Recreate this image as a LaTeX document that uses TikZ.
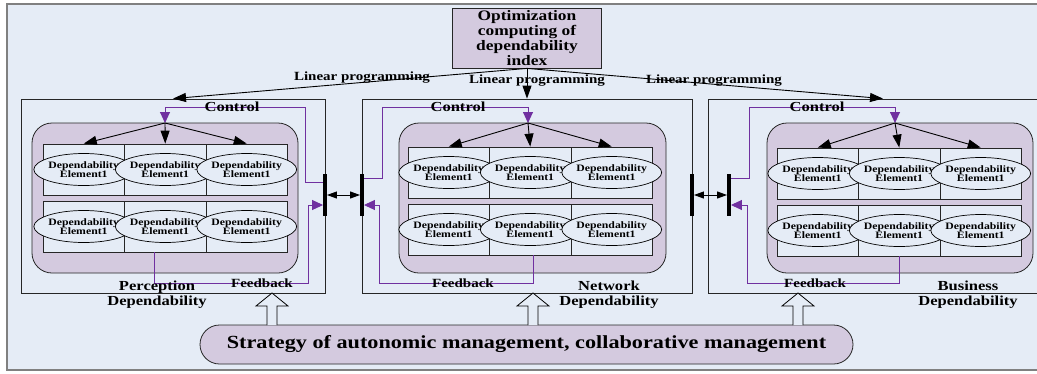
\documentclass[tikz,border=0pt]{standalone}
\usepackage{fontspec}
\setmainfont[FakeStretch=1.2]{Liberation Serif}
\usetikzlibrary{arrows.meta,shapes.geometric}
\definecolor{bgblue}{HTML}{E5ECF6}
\definecolor{lilac}{HTML}{D4CADF}
\definecolor{fbpurple}{HTML}{7030A0}
\tikzset{
  lbl/.style={font=\fontsize{12.5}{14}\selectfont\bfseries, inner sep=0pt},
  outerbox/.style={draw=black!85, line width=0.8pt, minimum height=194pt, inner sep=0pt},
  panel/.style={draw=black!85, fill=lilac, line width=0.8pt, rounded corners=20pt},
  cell/.style={draw=black!85, fill=bgblue, line width=0.8pt, minimum width=81.5pt, minimum height=51pt, inner sep=0pt},
  elem/.style={ellipse, draw=black, fill=bgblue, line width=0.7pt, minimum width=79pt, minimum height=32pt, inner sep=0pt, align=center, font=\fontsize{9.8}{9.5}\selectfont\bfseries},
  blk/.style={line width=0.9pt, -{Triangle[length=13pt,width=9pt]}},
  ctl/.style={fbpurple, line width=0.9pt, -{Triangle[length=11pt,width=10pt]}},
  bar/.style={fill=black, minimum width=3.5pt, minimum height=42pt, inner sep=0pt},
  dbl/.style={line width=0.9pt, {Triangle[length=10pt,width=7pt]}-{Triangle[length=10pt,width=7pt]}},
  hollow/.style={draw=black, fill=bgblue, line width=0.8pt}
}
\begin{document}
\begin{tikzpicture}[x=1pt,y=-1pt]
\useasboundingbox (0,0) rectangle (1037,373);
\clip (0,0) rectangle (1037,373);
\fill[bgblue] (7,4) rectangle (1045,370);
\draw[gray, line width=1.2pt] (1045,4) -- (7,4) -- (7,370) -- (1045,370);
% outer boxes
\node[outerbox, minimum width=304pt] (percbox) at (173,196) {};
\node[outerbox, minimum width=330pt] (netbox) at (527,196) {};
\node[outerbox, minimum width=350pt] (busbox) at (883,196) {};
% optimization
\node[draw=black!85, fill=lilac, line width=0.8pt, minimum width=149pt, minimum height=60pt, inner sep=0pt, align=center, font=\fontsize{14.5}{15}\selectfont\bfseries] (opt) at (527,38) {Optimization\\computing of\\dependability\\index};
\draw[blk] (opt.south) -- (percbox.north);
\draw[blk] (opt.south) -- (netbox.north);
\draw[blk] (opt.south) -- (busbox.north);
\node[lbl] (lpL) at (362,78) {Linear programming};
\node[lbl] (lpM) at (537,81) {Linear programming};
\node[lbl] (lpR) at (714,81) {Linear programming};
% inner panels
\draw[panel] (32,123) rectangle (298,273);
\draw[panel] (399,123) rectangle (666,273);
\draw[panel] (767,123) rectangle (1033,273);
\coordinate (ctlL) at (165,123);
\coordinate (ctlM) at (528,123);
\coordinate (ctlR) at (895,123);
\foreach \p/\gx/\gy in {L/43/144, M/408/147, R/777/148}
  \foreach \r in {1,2}
    \foreach \c in {1,2,3}
      \node[cell] (c\p\r\c) at ({\gx+(\c-0.5)*81.5},{\gy+25.5+(\r-1)*57}) {};
\foreach \p in {L,M,R}
  \foreach \r in {1,2}
    \foreach \c in {1,2,3}
      \node[elem] (e\p\r\c) at (c\p\r\c) {Dependability\\Element1};
\foreach \p in {L,M,R}
  \foreach \c in {1,2,3}
    \draw[blk] (ctl\p) -- (c\p1\c.north);
% bars
\node[bar] (barL) at (325,195) {};
\node[bar] (barML) at (362,195) {};
\node[bar] (barMR) at (692,195) {};
\node[bar] (barR) at (729,195) {};
% control and feedback
\draw[ctl] ([yshift=13pt]barL.center) -| (305,107) -| (ctlL);
\draw[ctl] ([yshift=17pt]barML.center) -| (382,107) -| (ctlM);
\draw[ctl] ([yshift=17pt]barR.center) -| (749,107) -| (ctlR);
\draw[ctl] ([xshift=-11pt]cL22.south) |- (308,283) |- ([yshift=-10pt]barL.west);
\draw[ctl] ([xshift=3pt]cM22.south) |- (379,283) |- ([yshift=-10pt]barML.east);
\draw[ctl] (cR22.south) |- (747,283) |- ([yshift=-10pt]barR.east);
\node[bar] at (barL) {};
\node[bar] at (barML) {};
\node[bar] at (barMR) {};
\node[bar] at (barR) {};
\draw[dbl] (barL.east) -- (barML.west);
\draw[dbl] (barMR.east) -- (barR.west);
\node[lbl, font=\fontsize{13.8}{14}\selectfont\bfseries] (ctrlL) at (232,107) {Control};
\node[lbl, font=\fontsize{13.8}{14}\selectfont\bfseries] (ctrlM) at (458,107) {Control};
\node[lbl, font=\fontsize{13.8}{14}\selectfont\bfseries] (ctrlR) at (817,107) {Control};
\node[lbl] (fbL) at (262,283) {Feedback};
\node[lbl] (fbM) at (463,283) {Feedback};
\node[lbl] (fbR) at (815,283) {Feedback};
\node[lbl, align=center, font=\fontsize{13.8}{15}\selectfont\bfseries] (nmL) at (157,294.5) {Perception\\Dependability};
\node[lbl, align=center, font=\fontsize{13.8}{15}\selectfont\bfseries] (nmM) at (609,294.5) {Network\\Dependability};
\node[lbl, align=center, font=\fontsize{13.8}{15}\selectfont\bfseries] (nmR) at (968,294.5) {Business\\Dependability};
% strategy
\node[draw=black!85, fill=lilac, line width=0.8pt, minimum width=653pt, minimum height=39pt, rounded corners=19.5pt, inner sep=0pt, font=\fontsize{18.5}{20}\selectfont\bfseries] (strat) at (526.5,344.5) {Strategy of autonomic management, collaborative management};
\foreach \x in {272,533,798}
  \draw[hollow] (\x-5,325) -- (\x-5,306) -- (\x-16,306) -- (\x,293) -- (\x+16,306) -- (\x+5,306) -- (\x+5,325);
\end{tikzpicture}
\end{document}
